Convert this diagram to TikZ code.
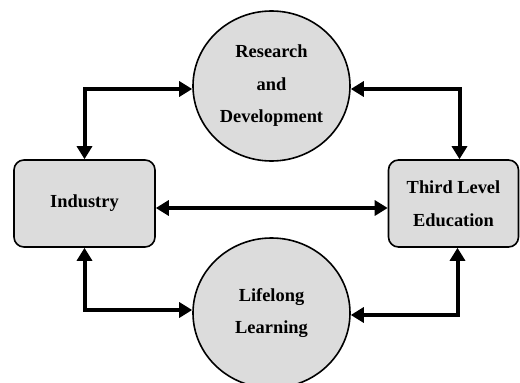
\documentclass[tikz,border=0pt]{standalone}
\usepackage{fontspec}
\setmainfont{Liberation Serif}
\usetikzlibrary{shapes.geometric,arrows.meta}
\definecolor{boxgray}{HTML}{DCDCDC}
\tikzset{
  lbl/.style={align=center,font=\fontsize{18.4}{32.5}\selectfont\bfseries,text=black},
  roundbox/.style={lbl,draw=black,line width=1.6pt,fill=boxgray,rounded corners=10pt,inner sep=0pt},
  bubble/.style={lbl,ellipse,draw=black,line width=1.6pt,fill=boxgray,inner sep=0pt,minimum width=157pt,minimum height=150pt},
  biarrow/.style={line width=4pt,{Triangle[length=13pt,width=15pt]}-{Triangle[length=13pt,width=15pt]}}
}
\begin{document}
\begin{tikzpicture}[x=1pt,y=-1pt]
\useasboundingbox (0,0) rectangle (520,383);
\node[bubble] (rd) at (271.5,86) {Research\\and\\Development};
\node[bubble] (ll) at (271.5,313) {Lifelong\\Learning};
\node[roundbox,minimum width=141pt,minimum height=87pt] (ind) at (84.5,203.5) {Industry};
\node[roundbox,minimum width=130pt,minimum height=87pt] (tle) at (453.5,203.5) {Third Level\\Education};
\draw[biarrow] (ind.north) |- ([yshift=-3pt]rd.west);
\draw[biarrow] ([yshift=-3pt]rd.east) -| ([xshift=6pt]tle.north);
\draw[biarrow] ([yshift=-4.5pt]ind.east) -- ([yshift=-4.5pt]tle.west);
\draw[biarrow] (ind.south) |- ([yshift=3pt]ll.west);
\draw[biarrow] ([yshift=-2pt]ll.east) -| ([xshift=4pt]tle.south);
\end{tikzpicture}
\end{document}
